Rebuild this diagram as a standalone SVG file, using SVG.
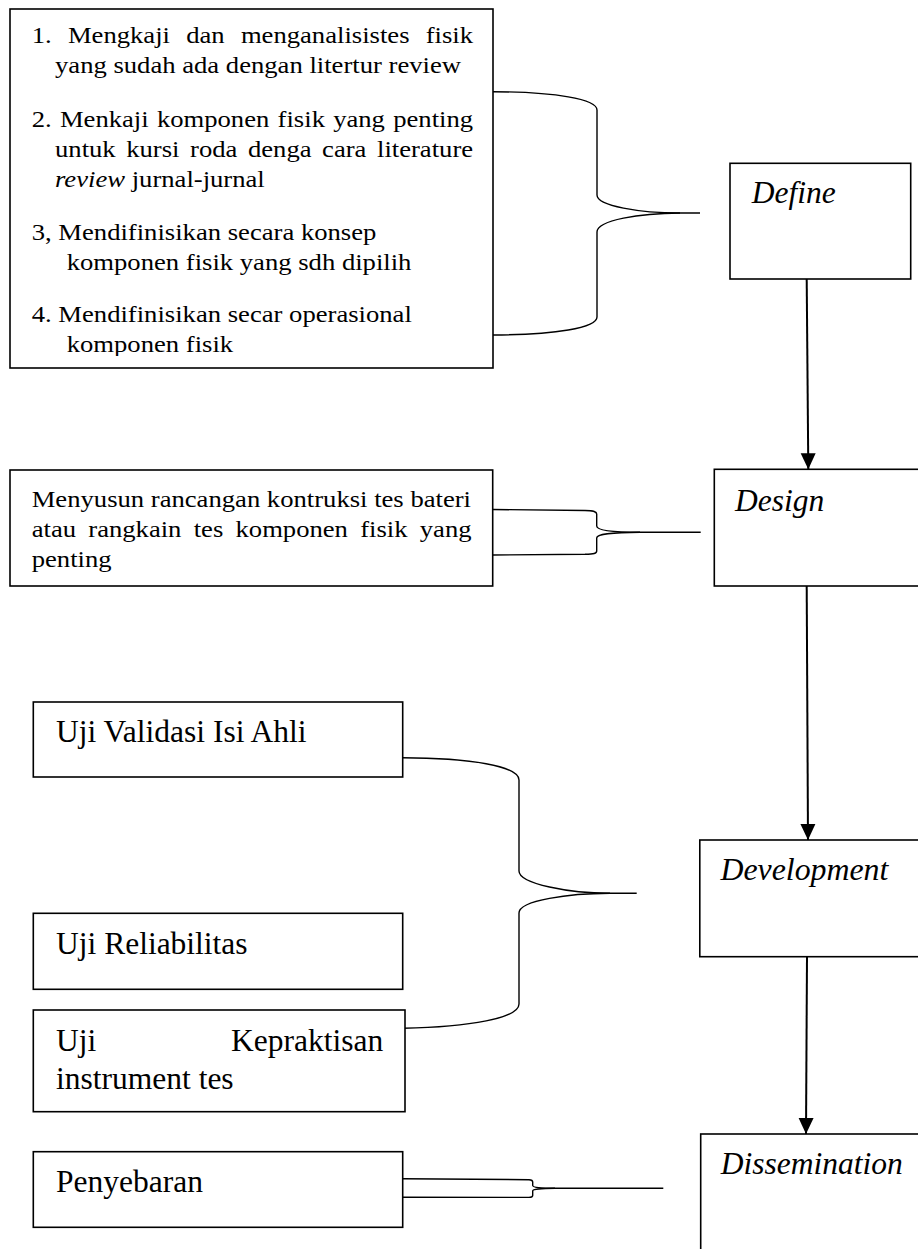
<svg xmlns="http://www.w3.org/2000/svg" width="918" height="1249" viewBox="0 0 918 1249">
<defs>
<style>
.box{fill:#fff;stroke:#000;stroke-width:1.6}
.t{font-family:"Liberation Serif","Times New Roman",serif;fill:#000}
.s{font-size:24px}
.u{font-size:31.5px}
.lab{font-size:31.5px;font-style:italic}
.br{fill:none;stroke:#000;stroke-width:1.4}
.ar{fill:none;stroke:#000;stroke-width:2}
</style>
<marker id="ah" markerUnits="userSpaceOnUse" markerWidth="16" markerHeight="16" refX="16" refY="7.5" orient="auto" viewBox="0 0 16 15">
<path d="M0,0 L16,7.5 L0,15 z" fill="#000"/>
</marker>
<clipPath id="c1"><rect x="0" y="0" width="918" height="356"/></clipPath>
</defs>
<rect x="0" y="0" width="918" height="1249" fill="#fff"/>

<g id="connectors">
<path class="br" d="M493,91.7 C555,92 597,99 597,110 L597,195 C597,206 640,213 680,213 L700,213"/>
<path class="br" d="M680,213 C640,213.3 597,220 597,232 L597,317 C597,328 555,334.7 493,335"/>
<path class="br" d="M493,509.5 L585,510.5 C594,510.7 596.7,511.5 596.7,514 L596.7,526 C596.7,530 610,532.3 640,532.3 L700.7,532.3"/>
<path class="br" d="M640,532.3 C610,532.6 596.7,534 596.7,538 L596.7,551 C596.7,553.5 594,554 585,554.3 L493,555"/>
<path class="br" d="M402.7,757.7 C470,758 519,766 519,780 L519,871 C519,884 570,893.3 610,893.3 L636.7,893.3"/>
<path class="br" d="M610,893.3 C570,893.5 519,900 519,913 L519,1004 C519,1018 470,1027 403.3,1028.3"/>
<path class="br" d="M403,1178.7 L529,1179.7 C532,1179.8 532.7,1180.5 532.7,1182 L532.7,1185.5 C532.7,1187.5 540,1188.3 555,1188.3 L663.3,1188.3"/>
<path class="br" d="M555,1188.3 C540,1188.5 532.7,1189 532.7,1191 L532.7,1195.5 C532.7,1197 532,1197.3 529,1197.4 L403,1197.3"/>
<line class="ar" x1="806.7" y1="279" x2="808.3" y2="469.3" marker-end="url(#ah)"/>
<line class="ar" x1="806.7" y1="586" x2="808" y2="840" marker-end="url(#ah)"/>
<line class="ar" x1="807" y1="956.7" x2="806" y2="1134" marker-end="url(#ah)"/>
</g>

<g id="node-define-tasks">
<rect class="box" x="10" y="9" width="483" height="359"/>
<text class="t s" transform="scale(1.11,1)" y="43.3"><tspan x="28.56">1.</tspan><tspan x="61.16">Mengkaji</tspan><tspan x="167.76">dan</tspan><tspan x="217.02">menganalisistes</tspan><tspan x="383.49">fisik</tspan></text>
<text class="t s" transform="scale(1.11,1)" x="49.55" y="73.3"><tspan>yang</tspan> <tspan>sudah</tspan> <tspan>ada</tspan> <tspan>dengan</tspan> <tspan>litertur</tspan> <tspan>review</tspan></text>
<text class="t s" transform="scale(1.11,1)" y="126.7"><tspan x="28.56">2.</tspan><tspan x="53.96">Menkaji</tspan><tspan x="141.36">komponen</tspan><tspan x="250.09">fisik</tspan><tspan x="300.16">yang</tspan><tspan x="354.22">penting</tspan></text>
<text class="t s" transform="scale(1.11,1)" y="156.7"><tspan x="49.55">untuk</tspan><tspan x="113.72">kursi</tspan><tspan x="171.22">roda</tspan><tspan x="223.37">denga</tspan><tspan x="290.18">cara</tspan><tspan x="339.64">literature</tspan></text>
<text class="t s" transform="scale(1.11,1)" x="49.55" y="186.7"><tspan font-style="italic">review</tspan> <tspan>jurnal-jurnal</tspan></text>
<text class="t s" transform="scale(1.11,1)" x="28.56" y="240"><tspan>3,</tspan> <tspan>Mendifinisikan</tspan> <tspan>secara</tspan> <tspan>konsep</tspan></text>
<text class="t s" transform="scale(1.11,1)" x="60.09" y="270"><tspan>komponen</tspan> <tspan>fisik</tspan> <tspan>yang</tspan> <tspan>sdh</tspan> <tspan>dipilih</tspan></text>
<text class="t s" transform="scale(1.11,1)" x="28.56" y="321.7"><tspan>4.</tspan> <tspan>Mendifinisikan</tspan> <tspan>secar</tspan> <tspan>operasional</tspan></text>
<text class="t s" transform="scale(1.11,1)" x="60.09" y="351.7" clip-path="url(#c1)"><tspan>komponen</tspan> <tspan>fisik</tspan></text>
</g>

<g id="node-define">
<rect class="box" x="730" y="163.3" width="180.7" height="115.7"/>
<text class="t lab" x="751.7" y="202.7">Define</text>
</g>

<g id="node-design-task">
<rect class="box" x="10" y="470" width="482.7" height="116"/>
<text class="t s" transform="scale(1.11,1)" x="28.56" y="506.7"><tspan>Menyusun</tspan> <tspan>rancangan</tspan> <tspan>kontruksi</tspan> <tspan>tes</tspan> <tspan>bateri</tspan></text>
<text class="t s" transform="scale(1.11,1)" y="536.7"><tspan x="28.56">atau</tspan><tspan x="79.54">rangkain</tspan><tspan x="174.52">tes</tspan><tspan x="212.18">komponen</tspan><tspan x="324.51">fisik</tspan><tspan x="378.18">yang</tspan></text>
<text class="t s" transform="scale(1.11,1)" x="28.56" y="566.7">penting</text>
</g>

<g id="node-design">
<rect class="box" x="714.3" y="469.3" width="260" height="116.7"/>
<text class="t lab" x="735" y="510.7">Design</text>
</g>

<g id="node-validasi">
<rect class="box" x="33.3" y="702" width="369.4" height="75"/>
<text class="t u" x="56" y="742.3"><tspan>Uji</tspan> <tspan>Validasi</tspan> <tspan>Isi</tspan> <tspan>Ahli</tspan></text>
</g>

<g id="node-reliabilitas">
<rect class="box" x="33.3" y="913.3" width="369.4" height="76"/>
<text class="t u" x="56" y="954"><tspan>Uji</tspan> <tspan>Reliabilitas</tspan></text>
</g>

<g id="node-kepraktisan">
<rect class="box" x="33.3" y="1010" width="371.7" height="101.7"/>
<text class="t u" x="56" y="1051.3">Uji</text>
<text class="t u" x="383.3" y="1051.3" text-anchor="end">Kepraktisan</text>
<text class="t u" x="56" y="1089.3"><tspan>instrument</tspan> <tspan>tes</tspan></text>
</g>

<g id="node-development">
<rect class="box" x="699.8" y="840" width="260" height="116.7"/>
<text class="t lab" x="720.4" y="880" textLength="168" lengthAdjust="spacingAndGlyphs">Development</text>
</g>

<g id="node-penyebaran">
<rect class="box" x="33.3" y="1151.7" width="369.4" height="75.6"/>
<text class="t u" x="56" y="1192.3">Penyebaran</text>
</g>

<g id="node-dissemination">
<rect class="box" x="700.7" y="1134" width="260" height="200"/>
<text class="t lab" x="720.7" y="1174">Dissemination</text>
</g>
</svg>
